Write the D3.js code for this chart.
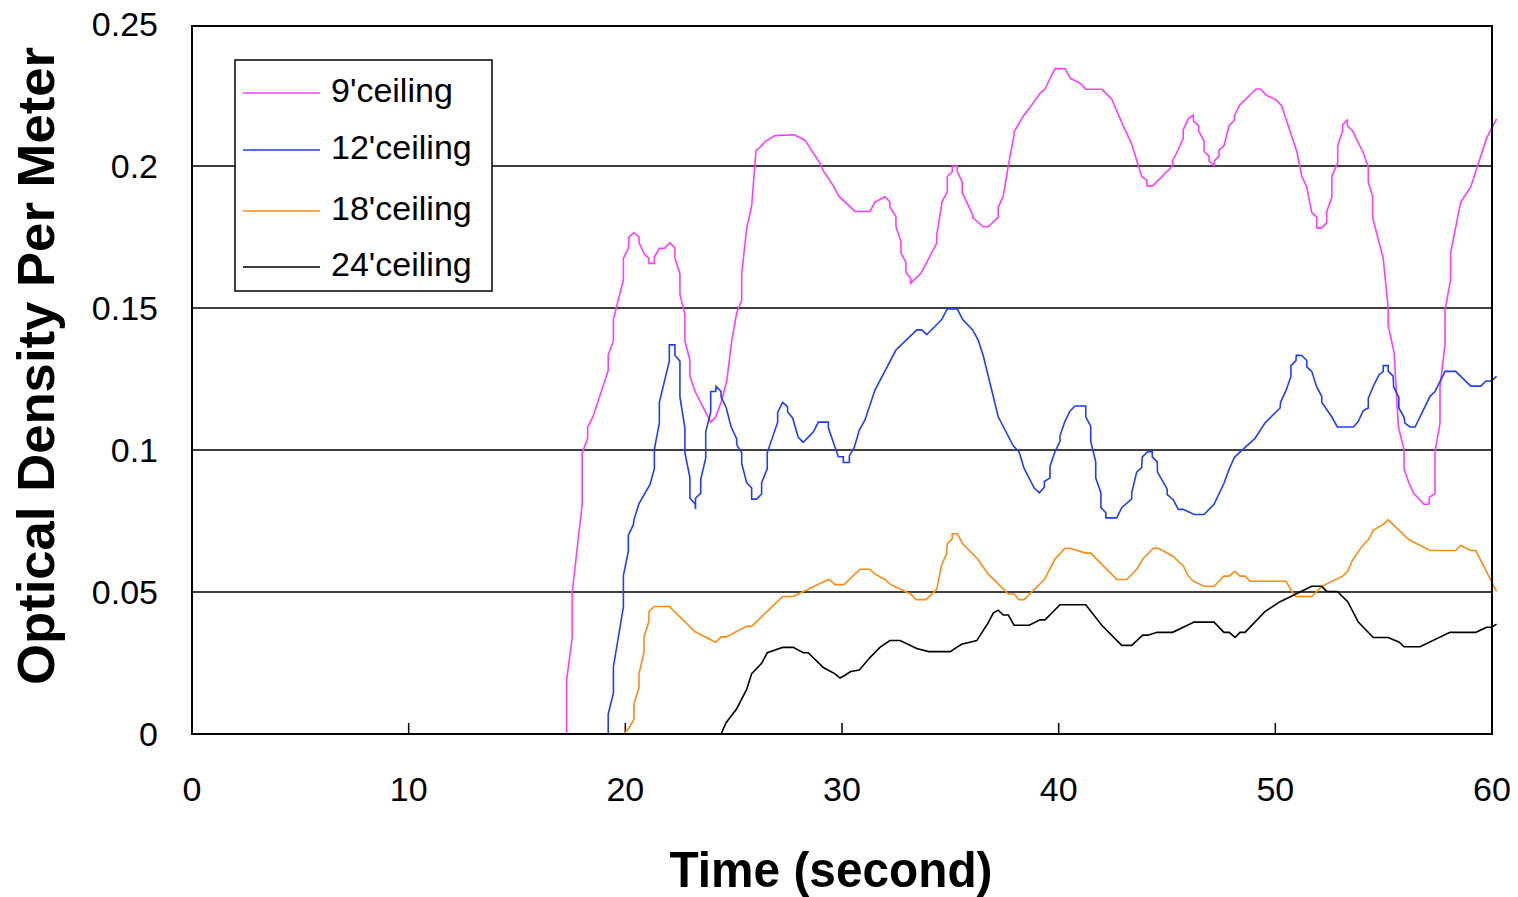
<!DOCTYPE html>
<html>
<head>
<meta charset="utf-8">
<script src="https://cdn.jsdelivr.net/npm/d3@7"></script>
<style>
  body { margin: 0; background: #fff; }
  svg { display: block; font-family: "Liberation Sans", Arial, sans-serif; }
</style>
</head>
<body>
<div id="chart"></div>
<script>
// time (s), optical density per meter
var ceil9 = [[0,0],[17.29,0],[17.29,0.0127],[17.29,0.019],[17.55,0.034],[17.55,0.05],[18.01,0.081],[18.01,0.099],
  [18.26,0.104],[18.26,0.108],[18.52,0.112],[19.21,0.128],[19.21,0.1335],[19.45,0.1384],[19.45,0.146],[19.91,0.16],
  [19.91,0.1675],[20.14,0.171],[20.17,0.175],[20.4,0.1765],[20.63,0.175],[20.63,0.173],[20.88,0.169],[21.09,0.1675],
  [21.09,0.1657],[21.34,0.1657],[21.34,0.168],[21.57,0.171],[21.8,0.171],[22.06,0.173],[22.29,0.171],[22.29,0.1675],
  [22.52,0.162],[22.52,0.1548],[22.75,0.1477],[22.75,0.1384],[22.98,0.1317],[22.98,0.126],[23.22,0.1206],[23.75,0.1126],
  [23.94,0.1098],[24.17,0.1116],[24.45,0.1175],[24.68,0.1243],[24.91,0.1384],[25.14,0.1483],[25.37,0.1527],[25.37,0.162],
  [25.6,0.178],[25.83,0.186],[26.03,0.2054],[26.2,0.2065],[26.45,0.2086],[26.9,0.2107],[27.8,0.211],[28.3,0.209],
  [28.6,0.2054],[28.98,0.201],[29.14,0.1983],[29.6,0.193],[29.86,0.1893],[30.6,0.184],[31.29,0.184],[31.52,0.1873],
  [31.98,0.1892],[32.21,0.1873],[32.21,0.1855],[32.49,0.1822],[32.49,0.1786],[32.72,0.1735],[32.72,0.1694],[32.95,0.1661],
  [32.95,0.1625],[33.17,0.1604],[33.17,0.1587],[33.65,0.1623],[34.37,0.1728],[34.37,0.1755],[34.62,0.1875],[34.86,0.1909],
  [34.86,0.1963],[35.09,0.1979],[35.09,0.2],[35.32,0.2],[35.32,0.198],[35.55,0.1943],[35.55,0.1906],[36.03,0.1829],
  [36.03,0.1818],[36.52,0.1786],[36.75,0.1786],[37.21,0.1819],[37.21,0.1855],[37.44,0.1893],[37.68,0.2003],[37.94,0.2108],
  [37.94,0.212],[38.4,0.218],[38.64,0.2202],[39.14,0.2256],[39.37,0.2272],[39.83,0.2343],[40.29,0.2343],[40.55,0.2308],
  [41.02,0.229],[41.25,0.227],[41.99,0.227],[42.45,0.2235],[42.98,0.2141],[43.37,0.2077],[43.83,0.1963],[44.06,0.195],
  [44.08,0.193],[44.34,0.193],[45.26,0.2001],[45.26,0.2018],[45.52,0.2058],[45.75,0.2098],[45.75,0.2128],[45.98,0.2166],
  [46.21,0.2179],[46.22,0.2158],[46.46,0.2141],[46.46,0.2124],[46.71,0.2088],[46.71,0.2051],[46.94,0.2035],[46.94,0.2018],
  [47.17,0.2001],[47.18,0.2018],[47.4,0.2035],[47.4,0.2056],[47.63,0.2071],[47.86,0.2141],[48.11,0.2162],[48.12,0.2179],
  [48.37,0.2216],[48.83,0.225],[49.11,0.2271],[49.32,0.2271],[49.57,0.225],[50.03,0.2233],[50.29,0.2212],[50.99,0.2051],
  [51.22,0.1964],[51.45,0.1926],[51.68,0.1836],[51.91,0.182],[51.91,0.1782],[52.14,0.1782],[52.37,0.18],[52.37,0.1839],
  [52.61,0.189],[52.61,0.1964],[52.88,0.2011],[52.88,0.2071],[53.11,0.2125],[53.11,0.2146],[53.32,0.2162],[53.33,0.2141],
  [53.55,0.2125],[54.03,0.2051],[54.29,0.1997],[54.29,0.1943],[54.49,0.1893],[54.49,0.1818],[54.98,0.1674],[55.21,0.1499],
  [55.21,0.1438],[55.48,0.1344],[55.68,0.1081],[55.94,0.1],[55.94,0.0933],[56.17,0.0883],[56.4,0.0846],[56.86,0.0809],
  [57.09,0.0809],[57.11,0.0834],[57.37,0.0846],[57.37,0.0994],[57.6,0.1095],[57.6,0.1222],[57.83,0.1371],[57.83,0.1492],
  [58.09,0.16],[58.09,0.1694],[58.55,0.1872],[59.02,0.1926],[59.75,0.2098],[60.21,0.2166]];

var ceil12 = [[0,0],[19.21,0],[19.21,0.007],[19.45,0.0144],[19.45,0.0237],[19.91,0.0447],[19.91,0.0558],[20.14,0.0644],
  [20.14,0.07],[20.37,0.0737],[20.4,0.0755],[20.63,0.0811],[21.14,0.0879],[21.34,0.0934],[21.34,0.1002],[21.57,0.1095],
  [21.57,0.1168],[22.03,0.1313],[22.03,0.137],[22.29,0.137],[22.29,0.1333],[22.52,0.1313],[22.52,0.1187],[22.75,0.1076],
  [22.75,0.099],[22.98,0.0903],[22.98,0.083],[23.22,0.0811],[23.24,0.0792],[23.24,0.083],[23.48,0.0848],[23.48,0.0897],
  [23.71,0.0971],[23.71,0.1064],[23.94,0.1132],[23.94,0.1206],[24.17,0.1206],[24.19,0.1224],[24.42,0.1206],[24.42,0.1187],
  [24.65,0.115],[24.88,0.1082],[25.14,0.1039],[25.14,0.1019],[25.37,0.099],[25.37,0.0953],[25.6,0.0885],[25.83,0.0866],
  [25.83,0.0827],[26.06,0.0827],[26.29,0.0845],[26.29,0.0885],[26.55,0.0934],[26.55,0.099],[27.03,0.1098],[27.03,0.1132],
  [27.26,0.1168],[27.49,0.1152],[27.49,0.1134],[27.72,0.1113],[27.98,0.1045],[28.21,0.1027],[28.68,0.1064],[28.91,0.1098],
  [29.37,0.1098],[29.37,0.1078],[29.83,0.0976],[30.06,0.0976],[30.06,0.0956],[30.34,0.0956],[30.34,0.0979],[30.57,0.101],
  [30.8,0.107],[31.06,0.1106],[31.52,0.1211],[32.49,0.1352],[33.45,0.1423],[33.68,0.1423],[33.91,0.1406],[34.6,0.1459],
  [34.86,0.1497],[35.32,0.1497],[35.57,0.1459],[36.03,0.1423],[36.29,0.1386],[36.52,0.1332],[37.21,0.1117],[37.91,0.1014],
  [38.17,0.0994],[38.4,0.0936],[38.88,0.0865],[39.11,0.0849],[39.34,0.0869],[39.34,0.0889],[39.6,0.0902],[39.6,0.0943],
  [39.83,0.0994],[40.06,0.103],[40.06,0.105],[40.29,0.1101],[40.52,0.1137],[40.75,0.1155],[41.25,0.1155],[41.25,0.1117],
  [41.48,0.1083],[41.48,0.103],[41.71,0.0958],[41.71,0.0902],[41.95,0.0849],[41.95,0.0797],[42.18,0.0779],[42.18,0.0761],
  [42.68,0.0761],[42.91,0.0797],[43.37,0.0828],[43.37,0.0849],[43.6,0.0922],[43.83,0.0938],[43.86,0.0976],[44.11,0.0994],
  [44.32,0.0994],[44.32,0.0976],[44.55,0.0958],[44.56,0.0922],[45.01,0.0862],[45.01,0.0843],[45.29,0.0825],[45.52,0.0791],
  [45.75,0.0791],[46.25,0.0773],[46.71,0.0773],[47.17,0.0809],[47.63,0.0883],[47.87,0.0933],[48.11,0.0974],[48.34,0.0991],
  [49.06,0.1041],[49.52,0.1095],[50.22,0.1148],[50.24,0.1168],[50.49,0.1209],[50.72,0.1259],[50.72,0.1297],[50.95,0.1315],
  [50.97,0.1334],[51.22,0.1333],[51.45,0.1315],[51.45,0.1293],[51.68,0.1277],[51.91,0.1222],[52.14,0.1189],[52.14,0.1168],
  [52.6,0.1117],[52.86,0.1081],[53.6,0.1081],[53.83,0.1101],[54.06,0.1139],[54.29,0.1148],[54.29,0.1182],[54.55,0.1229],
  [54.8,0.1266],[54.98,0.1277],[54.98,0.1297],[55.21,0.1297],[55.21,0.1277],[55.44,0.126],[55.46,0.1222],[55.7,0.1185],
  [55.7,0.1148],[55.94,0.1115],[55.98,0.1095],[56.22,0.1081],[56.45,0.1081],[57.14,0.1189],[57.37,0.1206],[57.83,0.1277],
  [58.32,0.1277],[59.02,0.1225],[59.48,0.1225],[59.72,0.1243],[59.98,0.1243],[60.21,0.1259]];

var ceil18 = [[0,0],[19.91,0],[20.14,0.0018],[20.4,0.0052],[20.4,0.0107],[20.63,0.0163],[20.63,0.0212],[20.86,0.0286],
  [20.86,0.0342],[21.09,0.0397],[21.09,0.0432],[21.34,0.0449],[22.03,0.0449],[23.22,0.036],[24.17,0.0323],[24.42,0.0342],
  [24.65,0.0342],[25.6,0.0379],[25.83,0.0379],[27.26,0.0484],[27.75,0.0484],[29.22,0.0539],[29.41,0.0544],[29.68,0.0526],
  [30.09,0.0526],[30.83,0.058],[31.29,0.058],[31.52,0.0563],[31.98,0.0544],[32.25,0.0526],[33.17,0.0493],[33.41,0.0473],
  [33.88,0.0473],[34.37,0.0509],[34.6,0.0596],[34.83,0.0634],[34.86,0.067],[35.09,0.0688],[35.09,0.0705],[35.32,0.0705],
  [35.57,0.067],[36.26,0.0616],[36.75,0.0563],[37.68,0.0493],[37.94,0.0493],[38.17,0.0473],[38.4,0.0473],[39.34,0.0544],
  [39.83,0.0616],[40.29,0.0654],[40.52,0.0654],[41.25,0.0637],[41.48,0.0637],[42.68,0.0544],[43.14,0.0544],[43.6,0.058],
  [43.88,0.0616],[44.37,0.0654],[44.6,0.0654],[45.26,0.0627],[45.75,0.0592],[45.98,0.0556],[46.21,0.0538],[46.71,0.052],
  [47.17,0.052],[47.63,0.0556],[47.87,0.0556],[48.14,0.0573],[48.37,0.0556],[48.6,0.0556],[48.83,0.0538],[50.49,0.0538],
  [50.76,0.0502],[50.95,0.0484],[51.68,0.0484],[52.14,0.052],[53.11,0.0556],[53.34,0.0573],[53.55,0.061],[54.03,0.0664],
  [54.29,0.0684],[54.52,0.0718],[54.98,0.0738],[55.21,0.0754],[56.17,0.0684],[57.14,0.0646],[58.32,0.0646],[58.55,0.0664],
  [59.02,0.0646],[59.25,0.0646],[60.21,0.0502]];

var ceil24 = [[0,0],[24.42,0],[24.65,0.004],[25.14,0.0089],[25.6,0.0157],[25.83,0.0212],[26.29,0.0249],[26.55,0.0286],
  [27.26,0.0305],[27.75,0.0305],[28.21,0.0286],[28.44,0.0286],[29.14,0.0234],[29.68,0.0212],[29.91,0.0197],[30.1,0.0205],
  [30.4,0.022],[30.8,0.0225],[31.3,0.027],[31.75,0.0305],[32.21,0.0329],[32.68,0.0329],[33.45,0.0301],[34.0,0.029],
  [35.0,0.029],[35.29,0.0305],[35.52,0.0316],[36.22,0.0329],[36.52,0.0365],[36.72,0.0388],[36.98,0.0426],[37.21,0.0436],
  [37.44,0.0419],[37.68,0.0419],[37.94,0.0383],[38.64,0.0383],[39.14,0.0402],[39.37,0.0402],[40.06,0.0455],[41.25,0.0455],
  [41.99,0.0383],[42.91,0.0312],[43.37,0.0312],[43.88,0.0348],[44.11,0.0348],[44.55,0.0358],[45.26,0.0358],[46.25,0.0394],
  [47.17,0.0394],[47.63,0.0358],[47.87,0.0358],[48.14,0.034],[48.37,0.0358],[48.6,0.0358],[49.52,0.0431],[50.22,0.0466],
  [51.68,0.052],[52.14,0.052],[52.37,0.0502],[52.86,0.0502],[53.34,0.0466],[53.83,0.0394],[54.52,0.034],[55.21,0.034],
  [55.72,0.0323],[55.94,0.0307],[56.68,0.0307],[58.06,0.0358],[59.25,0.0358],[59.75,0.0376],[59.98,0.0376],[60.21,0.0387]];

var seriesNames = ["9'ceiling", "12'ceiling", "18'ceiling", "24'ceiling"];
var seriesColors = ["#ff3cff", "#1f3dff", "#ff8a14", "#000000"];
var xTicks = [0, 10, 20, 30, 40, 50, 60];
var yTicks = [0, 0.05, 0.1, 0.15, 0.2, 0.25];

var width = 1518, height = 897;
var plot = {left: 192, right: 1492, top: 24, bottom: 734};

var svg = d3.select('#chart').append('svg')
    .attr('width', width)
    .attr('height', height);

var x = d3.scaleLinear().domain([0, 60]).range([plot.left, plot.right]);
var y = d3.scaleLinear().domain([0, 0.25]).range([plot.bottom, plot.top]);

// gridlines
svg.append('g').selectAll('line')
    .data(yTicks.filter(function (d) { return d > 0 && d < 0.25; }))
    .enter().append('line')
    .attr('x1', plot.left).attr('x2', plot.right)
    .attr('y1', function (d) { return y(d); })
    .attr('y2', function (d) { return y(d); })
    .attr('stroke', '#000')
    .attr('stroke-width', 1.3);

// x ticks (inside, upward)
svg.append('g').selectAll('line')
    .data(xTicks.slice(1, -1))
    .enter().append('line')
    .attr('x1', function (d) { return x(d); })
    .attr('x2', function (d) { return x(d); })
    .attr('y1', plot.bottom).attr('y2', plot.bottom - 11)
    .attr('stroke', '#000')
    .attr('stroke-width', 1.5);

// series
var allSeries = [ceil9, ceil12, ceil18, ceil24];
var line = d3.line()
    .x(function (d) { return x(d[0]); })
    .y(function (d) { return y(d[1]); });

svg.append('g').selectAll('path')
    .data(allSeries)
    .enter().append('path')
    .attr('d', line)
    .attr('fill', 'none')
    .attr('stroke', function (d, i) { return seriesColors[i]; })
    .attr('stroke-width', 1.6)
    .attr('stroke-linejoin', 'miter');

// plot box
svg.append('rect')
    .attr('x', plot.left)
    .attr('y', y(0.25) + 2)
    .attr('width', plot.right - plot.left)
    .attr('height', plot.bottom - y(0.25) - 2)
    .attr('fill', 'none')
    .attr('stroke', '#000')
    .attr('stroke-width', 2);

// tick labels
svg.append('g').selectAll('text')
    .data(yTicks)
    .enter().append('text')
    .attr('x', 158)
    .attr('y', function (d) { return y(d) + 12; })
    .attr('text-anchor', 'end')
    .attr('font-size', 34)
    .text(function (d) { return d3.format('~g')(d); });

svg.append('g').selectAll('text')
    .data(xTicks)
    .enter().append('text')
    .attr('x', function (d) { return x(d); })
    .attr('y', 801)
    .attr('text-anchor', 'middle')
    .attr('font-size', 34)
    .text(function (d) { return d; });

// axis titles
svg.append('text')
    .attr('x', 831)
    .attr('y', 887)
    .attr('text-anchor', 'middle')
    .attr('font-size', 50)
    .attr('font-weight', 'bold')
    .attr('textLength', 323)
    .attr('lengthAdjust', 'spacingAndGlyphs')
    .text('Time (second)');

svg.append('text')
    .attr('transform', 'translate(54,366) rotate(-90)')
    .attr('text-anchor', 'middle')
    .attr('font-size', 52)
    .attr('font-weight', 'bold')
    .attr('textLength', 638)
    .attr('lengthAdjust', 'spacingAndGlyphs')
    .text('Optical Density Per Meter');

// legend
var legendY = [93, 150, 211, 267];
var legend = svg.append('g');
legend.append('rect')
    .attr('x', 235).attr('y', 60)
    .attr('width', 257).attr('height', 231)
    .attr('fill', '#fff')
    .attr('stroke', '#000')
    .attr('stroke-width', 1.5);
var items = legend.selectAll('.item')
    .data(seriesNames)
    .enter().append('g')
    .attr('class', 'item')
    .attr('transform', function (d, i) { return 'translate(0,' + legendY[i] + ')'; });
items.append('line')
    .attr('x1', 243).attr('x2', 320)
    .attr('stroke', function (d, i) { return seriesColors[i]; })
    .attr('stroke-width', 1.6);
items.append('text')
    .attr('x', 331)
    .attr('y', 9)
    .attr('font-size', 34)
    .text(function (d) { return d; });
</script>
</body>
</html>
